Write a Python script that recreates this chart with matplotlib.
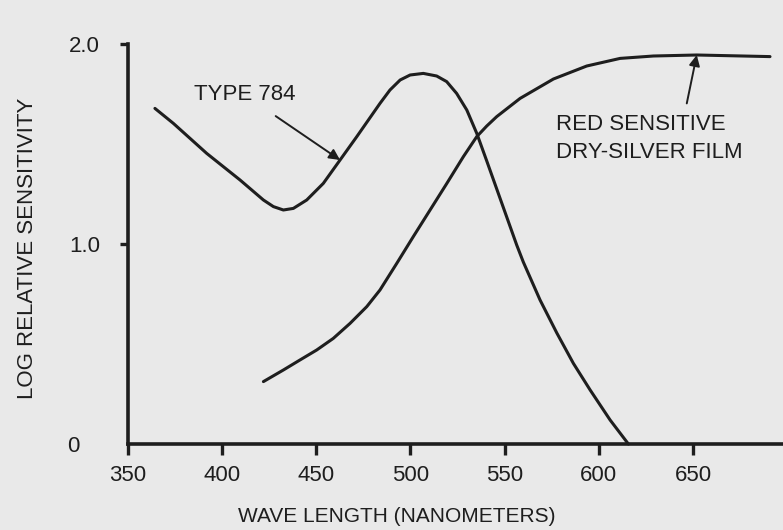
"""Spectral sensitivity of Type 784 vs red sensitive dry-silver film."""
import matplotlib
matplotlib.use("Agg")
import matplotlib.pyplot as plt

# values
type784_nm = [364.3, 374.1, 391.8, 409.5, 421.9, 427.2, 432.5, 437.8, 444.9,
              453.7, 462.6, 471.5, 483.8, 489.1, 494.5, 499.8, 506.8, 513.9,
              519.2, 524.5, 529.9, 535.2, 540.5, 545.8, 551.1, 556.4, 559.9,
              568.8, 577.7, 586.5, 595.4, 606.0, 615.7]
type784_val = [1.678, 1.603, 1.453, 1.32, 1.22, 1.187, 1.17, 1.178, 1.22,
               1.303, 1.42, 1.537, 1.703, 1.77, 1.82, 1.845, 1.853, 1.84,
               1.812, 1.753, 1.67, 1.553, 1.415, 1.275, 1.135, 0.995, 0.91,
               0.72, 0.555, 0.403, 0.27, 0.12, 0.0]

red_nm = [421.9, 432.5, 441.3, 450.2, 459.0, 467.9, 476.8, 483.8, 492.7,
          501.5, 510.4, 519.3, 528.1, 535.2, 540.5, 545.8, 558.2, 575.9,
          593.6, 611.3, 629.0, 652.0, 690.9]
red_val = [0.312, 0.37, 0.42, 0.47, 0.528, 0.603, 0.687, 0.77, 0.903, 1.037,
           1.17, 1.303, 1.437, 1.537, 1.59, 1.637, 1.728, 1.825, 1.89, 1.928,
           1.94, 1.945, 1.937]

x_ticks = [350, 400, 450, 500, 550, 600, 650]
y_ticks = [0, 1.0, 2.0]
y_tick_labels = ["0", "1.0", "2.0"]

INK = "#1e1e1e"
PAPER = "#e9e9e9"
FS = 16

plt.rcParams["font.family"] = ["Liberation Sans", "DejaVu Sans"]

fig = plt.figure(figsize=(7.83, 5.30), dpi=100, facecolor=PAPER)
ax = fig.add_axes([128 / 783, 86 / 530, 655 / 783, 400 / 530])
ax.set_facecolor(PAPER)

ax.plot(type784_nm, type784_val, color=INK, lw=2.2, clip_on=False,
        solid_capstyle="round", solid_joinstyle="round")
ax.plot(red_nm, red_val, color=INK, lw=2.2, clip_on=False,
        solid_capstyle="round", solid_joinstyle="round")

ax.set_xlim(350, 697.8)
ax.set_ylim(0, 2.0)

for side in ("top", "right"):
    ax.spines[side].set_visible(False)
for side in ("left", "bottom"):
    ax.spines[side].set_linewidth(2.6)
    ax.spines[side].set_color(INK)

ax.set_xticks(x_ticks)
ax.set_yticks(y_ticks)
ax.set_yticklabels(y_tick_labels)
ax.tick_params(axis="x", direction="out", length=8, width=2.4, pad=7,
               labelsize=FS, colors=INK)
ax.tick_params(axis="y", direction="out", length=6, width=2.4, pad=14,
               labelsize=FS, colors=INK)
zero_tick = ax.yaxis.get_major_ticks()[0]
zero_tick.tick1line.set_visible(False)
zero_tick.label1.set_x(-0.031)

ax.set_xlabel("WAVE LENGTH (NANOMETERS)", fontsize=15, color=INK, va="center")
ax.xaxis.set_label_coords(0.41, -0.1825)
ax.set_ylabel("LOG RELATIVE SENSITIVITY", fontsize=FS, color=INK, va="center")
ax.yaxis.set_label_coords(-0.154, 0.49)

ax.annotate("TYPE 784", xy=(462.6, 1.42), xytext=(412, 1.745),
            ha="center", va="center", fontsize=FS, color=INK,
            arrowprops=dict(arrowstyle="-|>", color=INK, lw=1.4,
                            mutation_scale=16, shrinkA=10, shrinkB=0))
ax.annotate("", xy=(652, 1.945), xytext=(646.7, 1.703),
            arrowprops=dict(arrowstyle="-|>", color=INK, lw=1.4,
                            mutation_scale=16, shrinkA=0, shrinkB=0))
ax.text(577, 1.595, "RED SENSITIVE", fontsize=FS, color=INK,
        ha="left", va="center")
ax.text(577, 1.455, "DRY-SILVER FILM", fontsize=FS, color=INK,
        ha="left", va="center")

fig.savefig("out.png", dpi=100, facecolor=PAPER)
plt.close(fig)
